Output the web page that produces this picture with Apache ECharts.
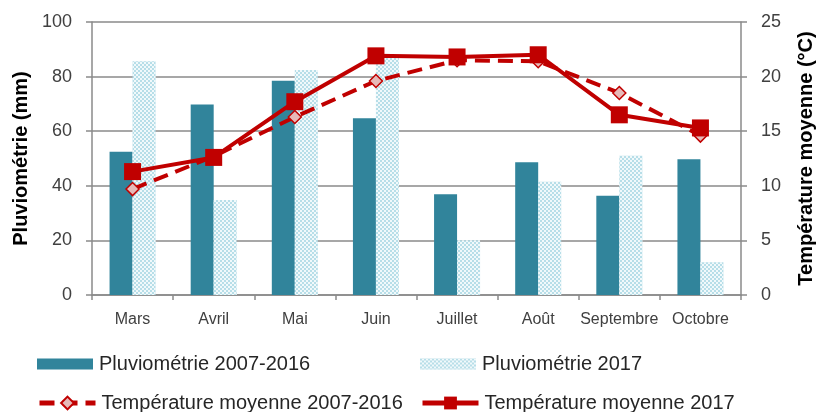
<!DOCTYPE html>
<html>
<head>
<meta charset="utf-8">
<script src="https://cdn.jsdelivr.net/npm/echarts@6/dist/echarts.min.js"></script>
<style>
html,body{margin:0;padding:0;background:#fff;}
#chart{width:817px;height:412px;}
</style>
</head>
<body>
<div id="chart"></div>
<script>
const categories = ['Mars','Avril','Mai','Juin','Juillet','Août','Septembre','Octobre'];
const pluvio0716 = [52.5, 69.8, 78.5, 64.7, 36.9, 48.6, 36.4, 49.7];
const pluvio2017 = [85.6, 34.8, 82.4, 87.0, 20.1, 41.5, 51.0, 12.0];
const temp0716 = [9.7, 12.7, 16.3, 19.6, 21.5, 21.4, 18.5, 14.6];
const temp2017 = [11.3, 12.6, 17.7, 21.9, 21.8, 22.0, 16.5, 15.3];
const leftTicks = {min: 0, max: 100, interval: 20};
const rightTicks = {min: 0, max: 25, interval: 5};
const names = ['Pluviométrie 2007-2016', 'Pluviométrie 2017', 'Température moyenne 2007-2016', 'Température moyenne 2017'];

const RED = '#C00000';
const GRAY = '#8A8A8A';
const FONT = '"Liberation Sans", Arial, sans-serif';

const chart = echarts.init(document.getElementById('chart'), null, {renderer: 'canvas'});

function legendAt(name, left, top, h, isBar) {
  const l = {
    data: [name], left: left, top: top, itemWidth: 56, itemHeight: h, itemGap: 0,
    textStyle: {fontSize: 20, color: '#262626', fontFamily: FONT, padding: [0,0,0,1]},
    padding: 0, selectedMode: false
  };
  if (isBar) l.icon = 'rect';
  else l.lineStyle = {width: 5};
  return l;
}

chart.setOption({
  animation: false,
  backgroundColor: '#fff',
  grid: {left: 92, right: 76, top: 22, bottom: 117, containLabel: false, outerBoundsMode: 'none'},
  legend: [
    legendAt(names[0], 37, 354, 11, true),
    legendAt(names[1], 420, 354, 11, true),
    legendAt(names[2], 37, 393, 16, false),
    legendAt(names[3], 420, 393, 16, false)
  ],
  xAxis: {
    type: 'category', data: categories, boundaryGap: true,
    axisLine: {lineStyle: {color: GRAY, width: 1.5}},
    axisTick: {show: true, interval: 0, length: 5, lineStyle: {color: GRAY, width: 1.5}},
    axisLabel: {fontSize: 16, color: '#404040', fontFamily: FONT, margin: 17, interval: 0}
  },
  yAxis: [
    {
      type: 'value', min: leftTicks.min, max: leftTicks.max, interval: leftTicks.interval,
      name: 'Pluviométrie (mm)', nameLocation: 'middle', nameGap: 60,
      nameTextStyle: {fontSize: 20, fontWeight: 'bold', color: '#000', fontFamily: FONT},
      axisLine: {show: true, lineStyle: {color: GRAY, width: 1.5}},
      axisTick: {show: true, length: 6, lineStyle: {color: GRAY, width: 1.5}},
      axisLabel: {fontSize: 18, color: '#404040', fontFamily: FONT, margin: 20},
      splitLine: {show: true, lineStyle: {color: GRAY, width: 1.5}}
    },
    {
      type: 'value', min: rightTicks.min, max: rightTicks.max, interval: rightTicks.interval,
      position: 'right',
      name: 'Température moyenne (°C)', nameLocation: 'middle', nameGap: 55,
      nameTextStyle: {fontSize: 20, fontWeight: 'bold', color: '#000', fontFamily: FONT},
      axisLine: {show: true, lineStyle: {color: GRAY, width: 1.5}},
      axisTick: {show: true, length: 6, lineStyle: {color: GRAY, width: 1.5}},
      axisLabel: {fontSize: 18, color: '#404040', fontFamily: FONT, margin: 20},
      splitLine: {show: false}
    }
  ],
  series: [
    {
      name: names[0], type: 'bar', yAxisIndex: 0, data: pluvio0716,
      barWidth: 23, barGap: '0%',
      itemStyle: {color: '#31849B'}
    },
    {
      name: names[1], type: 'bar', yAxisIndex: 0, data: pluvio2017,
      barWidth: 23,
      itemStyle: {
        color: '#B7DEE8',
        decal: {
          symbol: 'rect', symbolSize: 1, color: 'rgba(255,255,255,0.8)',
          dashArrayX: [[2, 2], [0, 2, 2, 0]], dashArrayY: [2, 0], rotation: 0
        }
      }
    },
    {
      name: names[2], type: 'line', yAxisIndex: 1, data: temp0716,
      symbol: 'diamond', symbolSize: 13, showSymbol: true,
      lineStyle: {color: RED, width: 4, type: [15, 8]},
      itemStyle: {color: '#E6B9B8', borderColor: RED, borderWidth: 1.5}
    },
    {
      name: names[3], type: 'line', yAxisIndex: 1, data: temp2017,
      symbol: 'rect', symbolSize: 17, showSymbol: true,
      lineStyle: {color: RED, width: 4},
      itemStyle: {color: RED}
    }
  ]
});
</script>
</body>
</html>
